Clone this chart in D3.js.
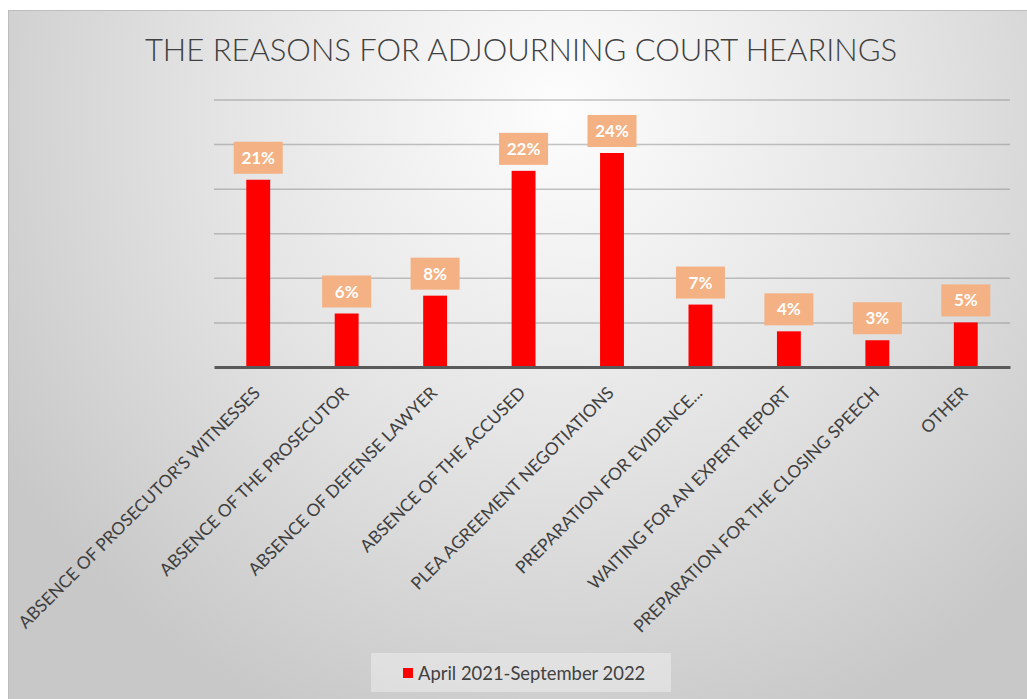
<!DOCTYPE html>
<html>
<head>
<meta charset="utf-8">
<script src="https://cdn.jsdelivr.net/npm/d3@7"></script>
<style>
  html, body { margin: 0; padding: 0; background: #ffffff; }
  svg { display: block; }
</style>
</head>
<body>
<svg id="chart" width="1027" height="699"></svg>
<script>
// Reasons for adjourning court hearings, share of adjourned hearings (%)
const categories = [
  "ABSENCE OF PROSECUTOR'S WITNESSES",
  "ABSENCE OF THE PROSECUTOR",
  "ABSENCE OF DEFENSE LAWYER",
  "ABSENCE OF THE ACCUSED",
  "PLEA AGREEMENT NEGOTIATIONS",
  "PREPARATION FOR EVIDENCE...",
  "WAITING FOR AN EXPERT REPORT",
  "PREPARATION FOR THE CLOSING SPEECH",
  "OTHER"
];
const values = [21, 6, 8, 22, 24, 7, 4, 3, 5];
const gridTicks = [0, 5, 10, 15, 20, 25, 30];
const seriesName = "April 2021-September 2022";
const titleText = "THE REASONS FOR ADJOURNING COURT HEARINGS";

const svg = d3.select("#chart");
const FONT = "Lato, 'Open Sans', 'Noto Sans', sans-serif";

// Chart area background: soft radial gray gradient
const defs = svg.append("defs");
const grad = defs.append("radialGradient")
  .attr("id", "bg")
  .attr("gradientUnits", "userSpaceOnUse")
  .attr("cx", 560).attr("cy", 110).attr("r", 660);
grad.append("stop").attr("offset", 0).attr("stop-color", "#fdfdfd");
grad.append("stop").attr("offset", 0.5).attr("stop-color", "#e5e5e5");
grad.append("stop").attr("offset", 1).attr("stop-color", "#c8c8c8");

svg.append("rect")
  .attr("x", 8.5).attr("y", 10.5)
  .attr("width", 1030).attr("height", 700)
  .attr("fill", "url(#bg)")
  .attr("stroke", "#bdbdbd").attr("stroke-width", 1);

// Title
svg.append("text")
  .attr("x", 521).attr("y", 61)
  .attr("text-anchor", "middle")
  .attr("font-family", FONT)
  .attr("font-weight", 300)
  .attr("font-size", 31)
  .attr("fill", "#404040")
  .text(titleText);

// Scales
const plotLeft = 214, plotRight = 1010, plotTop = 99.5, plotBottom = 367;
const x = d3.scaleBand()
  .domain(categories)
  .range([plotLeft, plotRight])
  .paddingInner(0.73)
  .paddingOuter(0.365);
const y = d3.scaleLinear()
  .domain([0, 30])
  .range([plotBottom, plotTop]);

// Horizontal gridlines
const grid = svg.append("g")
  .attr("transform", `translate(${plotLeft},0)`)
  .call(d3.axisLeft(y)
    .tickValues(gridTicks.filter(t => t > 0))
    .tickSize(-(plotRight - plotLeft))
    .tickFormat(""));
grid.select(".domain").remove();
grid.selectAll(".tick line")
  .attr("stroke", "#8a8a8a")
  .attr("stroke-opacity", 0.5)
  .attr("stroke-width", 1.5);

// Bars
svg.append("g").selectAll("rect")
  .data(values)
  .join("rect")
  .attr("x", (d, i) => x(categories[i]))
  .attr("y", d => y(d))
  .attr("width", x.bandwidth())
  .attr("height", d => y(0) - y(d))
  .attr("fill", "#ff0000");

// Category axis
const xAxis = svg.append("g")
  .attr("transform", `translate(0,${plotBottom})`)
  .call(d3.axisBottom(x).tickSize(0).tickSizeOuter(0));
xAxis.select(".domain")
  .attr("stroke", "#595959")
  .attr("stroke-width", 3);
xAxis.selectAll(".tick text")
  .attr("font-family", FONT)
  .attr("font-size", 17.3)
  .attr("fill", "#404040")
  .attr("text-anchor", "end")
  .attr("x", 0).attr("y", 0).attr("dy", 0)
  .attr("transform", "translate(3,27) rotate(-45)");

// Value labels in orange boxes
const labels = svg.append("g").selectAll("g")
  .data(values)
  .join("g")
  .attr("transform", (d, i) =>
    `translate(${x(categories[i]) + x.bandwidth() / 2},${y(d) - 6})`);
labels.append("rect")
  .attr("x", -24.5).attr("y", -32)
  .attr("width", 49).attr("height", 32)
  .attr("fill", "#f4b183");
labels.append("text")
  .attr("x", 0).attr("y", -10)
  .attr("text-anchor", "middle")
  .attr("font-family", FONT)
  .attr("font-weight", 700)
  .attr("font-size", 17)
  .attr("fill", "#ffffff")
  .text(d => d + "%");

// Legend
const legend = svg.append("g");
legend.append("rect")
  .attr("x", 371).attr("y", 653)
  .attr("width", 300).attr("height", 39)
  .attr("fill", "#ffffff").attr("fill-opacity", 0.35);
legend.append("rect")
  .attr("x", 403).attr("y", 668)
  .attr("width", 10).attr("height", 10)
  .attr("fill", "#ff0000");
legend.append("text")
  .attr("x", 418).attr("y", 680)
  .attr("font-family", FONT)
  .attr("font-size", 18.4)
  .attr("fill", "#404040")
  .text(seriesName);
</script>
</body>
</html>
